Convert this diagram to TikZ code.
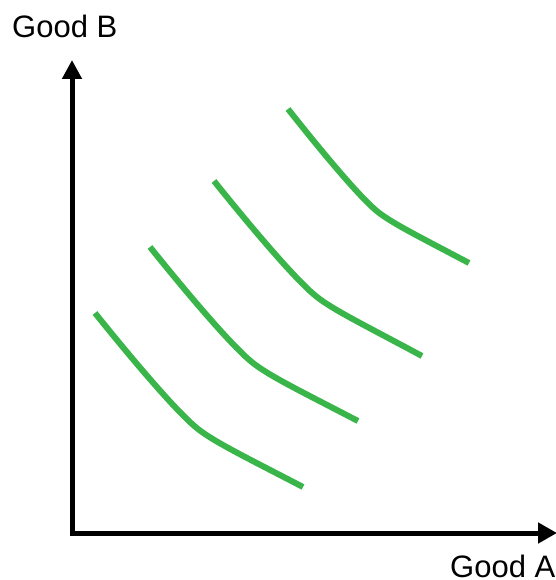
\documentclass[tikz,border=0pt]{standalone}
\usepackage{fontspec}
\setmainfont{Liberation Sans}
\usetikzlibrary{arrows.meta}
\definecolor{curvegreen}{RGB}{57,181,74}
\tikzset{
  axisline/.style={line width=5bp, line join=miter, {Triangle[length=19bp,width=19bp]}-{Triangle[length=19bp,width=20bp]}},
  indiff/.style={curvegreen, line width=6bp, line cap=butt, line join=round},
  axislabel/.style={inner sep=0pt, font=\fontsize{31bp}{37bp}\selectfont}
}
\begin{document}
\begin{tikzpicture}[x=1bp, y=-1bp]
\useasboundingbox (0,0) rectangle (556,580);
% ====================
% Axes: Good B upwards, Good A to the right
\coordinate (O) at (72,533);
\coordinate (ytop) at (72,60);
\coordinate (xend) at (557,533);
\draw[axisline] (ytop) -- (O) -- (xend);
% Axis labels
\node[axislabel, anchor=base west] (labelB) at (12,38) {Good B};
\node[axislabel, anchor=base west] (labelA) at (450,577) {Good A};

% ====================
% Indifference curves, lowest to highest
% Curve 1
\draw[indiff] (95,313) .. controls (140,369) and (180,415) .. (198,429)
  .. controls (215,442.3) and (245,456.8) .. (303,487);
% Curve 2
\draw[indiff] (150,247) .. controls (195,303) and (235,349) .. (253,363)
  .. controls (270,376.3) and (300,390.8) .. (358,421);
% Curve 3
\draw[indiff] (214,181) .. controls (259,237) and (299,283) .. (317,297)
  .. controls (334,310.3) and (364,324.8) .. (422,356);
% Curve 4 (a bit shorter)
\draw[indiff] (288,109) .. controls (327.2,158.6) and (362,199.3) .. (377.6,211.7)
  .. controls (392.4,223.4) and (418.5,236.3) .. (469,263);

\end{tikzpicture}
\end{document}
